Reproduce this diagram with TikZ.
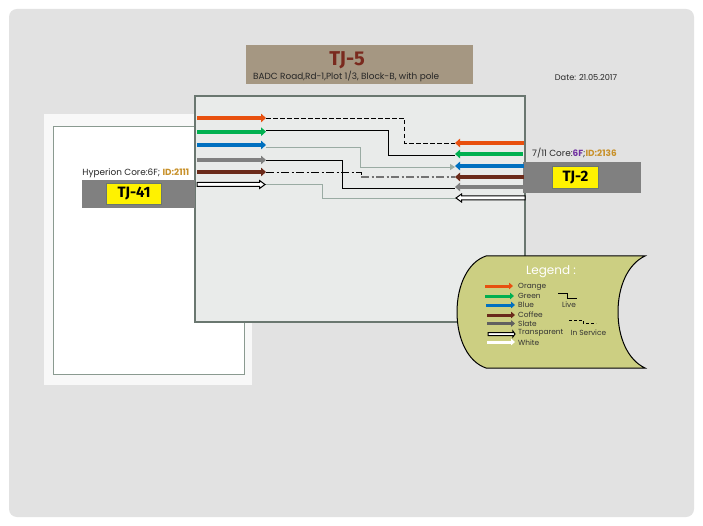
\documentclass[tikz,border=0pt]{standalone}
\usepackage{fontspec}
\setmainfont{Poppins}
\newfontfamily\tagfont{Fira Sans}
\usetikzlibrary{arrows.meta}
\definecolor{pagegray}{HTML}{E2E2E2}
\definecolor{boxfill}{HTML}{E9EBEA}
\definecolor{boxline}{HTML}{6A7770}
\definecolor{framefill}{HTML}{F8F8F8}
\definecolor{frameline}{HTML}{8A9A90}
\definecolor{barfill}{HTML}{808080}
\definecolor{titlefill}{HTML}{A59782}
\definecolor{titletext}{HTML}{7A2A1E}
\definecolor{legendfill}{HTML}{CCCF82}
\definecolor{corange}{HTML}{E8500F}
\definecolor{cgreen}{HTML}{00B050}
\definecolor{cblue}{HTML}{0070C0}
\definecolor{cslate}{HTML}{808080}
\definecolor{ccoffee}{HTML}{6B2A1A}
\definecolor{cslatedark}{HTML}{606060}
\definecolor{thinline}{HTML}{9AABA3}
\definecolor{idgold}{HTML}{C8912A}
\definecolor{idpurple}{HTML}{7030A0}
\newcommand{\openfib}[4]{% start, length (signed), half shaft, half head
  \draw[black,fill=white,line width=1pt,line join=miter] (#1) ++(0,-#3) -- ++({#2*0.92},0) -- ++(0,{-(#4-#3)}) -- ++({#2*0.08},#4) -- ++({-#2*0.08},#4) -- ++(0,{-(#4-#3)}) -- ++({-#2*0.92},0) -- cycle;}
\tikzset{
  x=1pt,y=-1pt,
  fib/.style={line width=4pt,-{Triangle[length=5pt,width=8.5pt]}},
  legfib/.style={line width=3pt,-{Triangle[length=4pt,width=6.5pt]}},
  wire/.style={line width=0.95pt,black},
  wirelight/.style={line width=0.95pt,thinline},
  wdash/.style={wire,dash pattern=on 4.5pt off 2.5pt},
  wdashdot/.style={wire,dash pattern=on 8pt off 2.5pt on 2pt off 2.5pt},
  tag/.style={draw=boxline,line width=1.4pt,fill=yellow,font=\tagfont\bfseries\fontsize{15}{15}\selectfont,text=black,inner sep=0pt,anchor=center},
  lab/.style={font=\fontsize{8.9}{10}\selectfont,text=black!85,inner sep=0pt},
  leglab/.style={font=\fontsize{7.4}{9}\selectfont,text=black!80,inner sep=0pt,anchor=west},
}
\begin{document}
\begin{tikzpicture}
\useasboundingbox (0,0) rectangle (703,526);
\fill[white] (0,0) rectangle (703,526);
\fill[pagegray,rounded corners=8pt] (9,9) rectangle (694,517);
% left frame
\fill[framefill] (44,114) rectangle (252,385);
\draw[frameline,fill=white,line width=0.8pt] (53,126) rectangle (244,374);
% title
\node[fill=titlefill,minimum width=227pt,minimum height=39pt,inner sep=0pt] (title) at (359.5,64.5) {};
\node[font=\tagfont\bfseries\fontsize{20}{20}\selectfont,text=titletext,inner sep=0pt] (titlename) at (347,60.5) {TJ-5};
\node[lab,anchor=west] (addr) at (253,76) {BADC Road,Rd-1,Plot 1/3, Block-B, with pole};
\node[lab,font=\fontsize{8.2}{9}\selectfont] (date) at (586,77.5) {Date: 21.05.2017};
% main box
\node[draw=boxline,fill=boxfill,line width=2pt,minimum width=330pt,minimum height=226pt,inner sep=0pt] (main) at (360,209) {};
% bars
\fill[barfill] (82,180) rectangle (195,208);
\node[tag,minimum width=55pt,minimum height=21pt] (tj41) at (134,194) {TJ-41};
\fill[barfill] (523,162) rectangle (641,193.5);
\node[tag,minimum width=46pt,minimum height=22pt] (tj2) at (575.5,177.5) {TJ-2};
\node[lab,anchor=east] (hyp) at (189.5,173) {Hyperion Core:6F; \textcolor{idgold}{\textbf{ID:2111}}};
\node[lab,anchor=west] (core) at (532,153) {7/11 Core:\textcolor{idpurple}{\textbf{6F}};\textcolor{idgold}{\textbf{ID:2136}}};
% fibre stubs, left
\coordinate (lo0) at (197,118); \coordinate (lo) at (266,118);
\coordinate (lg0) at (197,131.7); \coordinate (lg) at (266,131.7);
\coordinate (lb0) at (197,145); \coordinate (lb) at (266,145);
\coordinate (ls0) at (197,160); \coordinate (ls) at (266,160);
\coordinate (lc0) at (197,172); \coordinate (lc) at (266,172);
\coordinate (lw0) at (197,184.5); \coordinate (lw) at (265,184.5);
% fibre stubs, right
\coordinate (ro0) at (524,143); \coordinate (ro) at (455,143);
\coordinate (rg0) at (523,154); \coordinate (rg) at (455,154);
\coordinate (rb0) at (524,166); \coordinate (rb) at (455,166);
\coordinate (rc0) at (524,177); \coordinate (rc) at (455,177);
\coordinate (rs0) at (524,187); \coordinate (rs) at (455,187);
\coordinate (rw0) at (525,198); \coordinate (rw) at (456,198);
% connecting wires
\draw[wdash] (266,118) -- (404,118) -- (404,143) -- (ro);
\draw[wire] (266,130) -- (388,130) -- (388,155) -- (455,155);
\draw[wirelight,-{Triangle[length=5pt,width=6pt]}] (266,147) -- (360,147) -- (360,167) -- (455,167);
\draw[wire] (ls) -- (342,160) -- (342,188) -- (455,188);
\draw[wdashdot] (lc) -- (361,172) -- (361,177);
\draw[wdashdot,black!55,line width=1.3pt] (361,177) -- (rc);
\draw[wirelight] (lw) -- (322,184.5) -- (322,198) -- (rw);
% thick stubs
\draw[fib,corange] (lo0) -- (lo);
\draw[fib,cgreen] (lg0) -- (lg);
\draw[fib,cblue] (lb0) -- (lb);
\draw[fib,cslate] (ls0) -- (ls);
\draw[fib,ccoffee] (lc0) -- (lc);
\openfib{lw0}{68}{2}{4}
\draw[fib,corange] (ro0) -- (ro);
\draw[fib,cgreen] (rg0) -- (rg);
\draw[fib,cblue] (rb0) -- (rb);
\draw[fib,ccoffee] (rc0) -- (rc);
\draw[fib,cslate] (rs0) -- (rs);
\openfib{rw0}{-69}{2}{4}
% legend
\draw[black,fill=legendfill,line width=1pt] (645,256) -- (486,256)
  .. controls (468,262) and (457,285) .. (457,312)
  .. controls (457,339) and (468,362) .. (486,368) -- (645,368)
  .. controls (628,360) and (618,338) .. (618,312)
  .. controls (618,286) and (628,264) .. (645,256) -- cycle;
\node[font=\fontsize{12}{13}\selectfont,text=white,inner sep=0pt] (legtitle) at (551,272) {Legend :};
\coordinate (a1) at (485,286); \coordinate (b1) at (513,286);
\coordinate (a2) at (485,296); \coordinate (b2) at (514,296);
\coordinate (a3) at (486,305); \coordinate (b3) at (515,305);
\coordinate (a4) at (487,315); \coordinate (b4) at (515,315);
\coordinate (a5) at (487,323.5); \coordinate (b5) at (515,323.5);
\coordinate (a6) at (488,334); \coordinate (b6) at (515,334);
\coordinate (a7) at (487,342); \coordinate (b7) at (515,342);
\draw[legfib,corange] (a1) -- (b1);
\draw[legfib,cgreen] (a2) -- (b2);
\draw[legfib,cblue] (a3) -- (b3);
\draw[legfib,ccoffee] (a4) -- (b4);
\draw[legfib,cslatedark] (a5) -- (b5);
\openfib{a6}{27}{1.5}{3}
\draw[legfib,white] (a7) -- (b7);
\node[leglab] (t1) at (518,286.5) {Orange};
\node[leglab] (t2) at (518,295.5) {Green};
\node[leglab] (t3) at (518,304.5) {Blue};
\node[leglab] (t4) at (518,314.5) {Coffee};
\node[leglab] (t5) at (518,323.5) {Slate};
\node[leglab] (t6) at (518,332.5) {Transparent};
\node[leglab] (t7) at (518,342.5) {White};
\coordinate (live0) at (558,293); \coordinate (live1) at (577,298);
\draw[black,line width=0.7pt] (live0) -- (567,293) -- (567,298) -- (live1);
\node[leglab,anchor=center] (live) at (569,304.5) {Live};
\coordinate (svc0) at (569,320); \coordinate (svc1) at (596,323);
\draw[black,line width=0.7pt,dash pattern=on 3pt off 2pt] (svc0) -- (583,320) -- (583,323) -- (svc1);
\node[leglab,anchor=center] (svc) at (588.5,332.5) {In Service};
\end{tikzpicture}
\end{document}
